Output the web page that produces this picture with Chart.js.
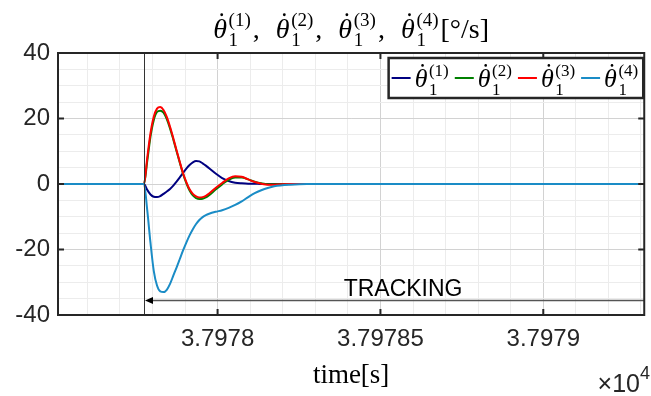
<!DOCTYPE html>
<html>
<head>
<meta charset="utf-8">
<script src="https://cdn.jsdelivr.net/npm/chart.js@4.4.0/dist/chart.umd.min.js"></script>
<style>
  html, body { margin: 0; padding: 0; background: #fff; }
</style>
</head>
<body>
<canvas id="myChart" width="651" height="396"></canvas>
<script>
// time axis (seconds), tracking starts at tStep
var tStep = 37977.774;
var xMin = 37977.51, xMax = 37979.31;
var yMin = -40, yMax = 40;
var xTicks = [37978, 37978.5, 37979];
var xTickLabels = ['3.7978', '3.79785', '3.7979'];
var yTicks = [-40, -20, 0, 20, 40];

// sample times, as offsets from tStep
var tOffset = [-0.264, 0,
  0.01, 0.02, 0.03, 0.04, 0.05, 0.06, 0.07, 0.08, 0.09, 0.10,
  0.11, 0.12, 0.13, 0.14, 0.15, 0.16, 0.17, 0.18, 0.19, 0.20,
  0.22, 0.24, 0.26, 0.28, 0.30, 0.32, 0.34, 0.36, 0.38, 0.40,
  0.45, 0.50, 0.60, 0.80, 1.00, 1.20, 1.536];

// joint rates [deg/s]
var rate1 = [0, 0,
  -1.8, -3.2, -3.9, -4.0, -3.7, -3.0, -2.3, -1.5, -0.5, 0.7,
  2.0, 3.4, 4.7, 5.8, 6.6, 7.0, 6.9, 6.3, 5.6, 4.8,
  3.2, 1.8, 0.9, 0.4, 0.2, 0.1, 0.1, 0, 0, 0,
  0, 0, 0, 0, 0, 0, 0];
var rate2 = [0, 0,
  7, 14.5, 19.5, 22, 22.4, 21.8, 19.8, 17, 13.6, 10,
  6.5, 3.1, 0.3, -2, -3.5, -4.3, -4.6, -4.5, -4.1, -3.4,
  -1.7, -0.1, 1.3, 2.0, 2.0, 1.4, 0.7, 0.2, -0.1, -0.1,
  0, 0, 0, 0, 0, 0, 0];
var rate3 = [0, 0,
  8, 15.5, 20.5, 23, 23.5, 22.6, 20.5, 17.5, 14, 10.3,
  6.7, 3.3, 0.6, -1.6, -3.0, -3.8, -4.1, -4.0, -3.6, -2.9,
  -1.2, 0.3, 1.7, 2.4, 2.2, 1.4, 0.6, 0.1, -0.2, -0.2,
  0, 0, 0, 0, 0, 0, 0];
var rate4 = [0, 0,
  -8, -18, -26.5, -31, -32.8, -33, -32.3, -30.5, -28, -25.5,
  -22.9, -20.3, -17.9, -15.7, -13.8, -12.2, -11.0, -10.1, -9.5, -9.1,
  -8.5, -8.0, -7.3, -6.4, -5.3, -4.0, -2.8, -1.9, -1.2, -0.7,
  -0.2, 0, 0, 0, 0, 0, 0];

var seriesColors = ['#000080', '#008000', '#ff0000', '#1a8cc6'];
var trackY = -35.6;
var trackLabel = 'TRACKING';
var trackLabelX = 37978.387, trackLabelY = -34.3;

var serif = '"Liberation Serif", "DejaVu Serif", serif';
var sans = '"Liberation Sans", Arial, sans-serif';
var ink = '#262626';

function pts(arr) {
  return tOffset.map(function (o, i) { return { x: tStep + o, y: arr[i] }; });
}

// width of a dotted theta with sub 1 and sup (k)
function thetaWidth(ctx, k, big, small) {
  ctx.font = 'italic ' + big + 'px ' + serif;
  var w = ctx.measureText('\u03b8').width + big * 0.06;
  ctx.font = small + 'px ' + serif;
  return w + Math.max(ctx.measureText('(' + k + ')').width, ctx.measureText('1').width);
}

function drawTheta(ctx, x, base, k, big, small) {
  ctx.textAlign = 'left';
  ctx.textBaseline = 'alphabetic';
  ctx.font = 'italic ' + big + 'px ' + serif;
  ctx.fillText('\u03b8', x, base);
  var w = ctx.measureText('\u03b8').width;
  ctx.beginPath();
  ctx.arc(x + w * 0.62, base - big * 0.83, big * 0.05, 0, Math.PI * 2);
  ctx.fill();
  var sx = x + w + big * 0.06;
  ctx.font = small + 'px ' + serif;
  ctx.fillText('(' + k + ')', sx, base - big * 0.42);
  ctx.fillText('1', sx, base + big * 0.3);
  return thetaWidth(ctx, k, big, small);
}

var decor = {
  id: 'decor',
  afterDatasetsDraw: function (chart) {
    var ctx = chart.ctx, a = chart.chartArea;
    var xs = chart.scales.x, ys = chart.scales.y;
    ctx.save();

    // start of tracking
    var px = xs.getPixelForValue(tStep);
    ctx.strokeStyle = '#333';
    ctx.lineWidth = 1;
    ctx.beginPath();
    ctx.moveTo(Math.round(px) + 0.5, a.top);
    ctx.lineTo(Math.round(px) + 0.5, a.bottom);
    ctx.stroke();

    // tracking arrow
    var py = ys.getPixelForValue(trackY);
    ctx.strokeStyle = '#555';
    ctx.lineWidth = 1.5;
    ctx.beginPath();
    ctx.moveTo(px + 6, py);
    ctx.lineTo(a.right, py);
    ctx.stroke();
    ctx.fillStyle = '#000';
    ctx.beginPath();
    ctx.moveTo(px + 1, py);
    ctx.lineTo(px + 9, py - 3.5);
    ctx.lineTo(px + 9, py + 3.5);
    ctx.closePath();
    ctx.fill();

    ctx.font = '23px ' + sans;
    ctx.textAlign = 'left';
    ctx.textBaseline = 'alphabetic';
    ctx.fillText(trackLabel, xs.getPixelForValue(trackLabelX), ys.getPixelForValue(trackLabelY));

    // axes box + inward ticks
    ctx.strokeStyle = ink;
    ctx.lineWidth = 2;
    ctx.strokeRect(a.left, a.top, a.right - a.left, a.bottom - a.top);
    ctx.beginPath();
    xTicks.forEach(function (v) {
      var x = xs.getPixelForValue(v);
      ctx.moveTo(x, a.bottom); ctx.lineTo(x, a.bottom - 6);
      ctx.moveTo(x, a.top); ctx.lineTo(x, a.top + 6);
    });
    yTicks.forEach(function (v) {
      var y = ys.getPixelForValue(v);
      ctx.moveTo(a.left, y); ctx.lineTo(a.left + 6, y);
      ctx.moveTo(a.right, y); ctx.lineTo(a.right - 6, y);
    });
    ctx.stroke();

    // legend
    var big = 26, small = 17, lineLen = 19, gap = 4, sep = 6;
    var widths = [1, 2, 3, 4].map(function (k) { return lineLen + gap + thetaWidth(ctx, k, big, small); });
    var boxW = 3 + widths.reduce(function (s, w) { return s + w; }, 0) + sep * 3 + 5;
    var boxR = a.right - 1, boxT = a.top + 5, boxH = 40;
    var boxL = boxR - boxW;
    ctx.fillStyle = '#fff';
    ctx.fillRect(boxL, boxT, boxW, boxH);
    var x = boxL + 3;
    for (var i = 0; i < 4; i++) {
      ctx.strokeStyle = seriesColors[i];
      ctx.lineWidth = 2;
      ctx.beginPath();
      ctx.moveTo(x, boxT + 20);
      ctx.lineTo(x + lineLen, boxT + 20);
      ctx.stroke();
      ctx.fillStyle = '#000';
      drawTheta(ctx, x + lineLen + gap, boxT + 29, i + 1, big, small);
      x += widths[i] + sep;
    }
    ctx.strokeStyle = ink;
    ctx.lineWidth = 2.5;
    ctx.strokeRect(boxL, boxT, boxW, boxH);
    ctx.restore();
  },
  afterDraw: function (chart) {
    var ctx = chart.ctx, a = chart.chartArea;
    var cx = (a.left + a.right) / 2;
    ctx.save();
    ctx.fillStyle = '#000';

    // title
    var big = 28, small = 19, commaAdv = 25;
    ctx.font = big + 'px ' + serif;
    var tail = '[\u00b0/s]';
    var total = ctx.measureText(tail).width + commaAdv * 3 + 2;
    for (var k = 1; k <= 4; k++) total += thetaWidth(ctx, k, big, small);
    var x = cx - total / 2, base = 38;
    for (k = 1; k <= 4; k++) {
      x += drawTheta(ctx, x, base, k, big, small);
      if (k < 4) {
        ctx.font = big + 'px ' + serif;
        ctx.fillText(',', x + 2, base);
        x += commaAdv;
      }
    }
    ctx.font = big + 'px ' + serif;
    ctx.fillText(tail, x + 2, base);

    // x axis title
    ctx.font = '27px ' + serif;
    ctx.textAlign = 'center';
    ctx.fillText('time[s]', cx, 383);

    // exponent
    ctx.fillStyle = ink;
    ctx.textAlign = 'right';
    ctx.font = '18px ' + sans;
    var ew = ctx.measureText('4').width;
    ctx.fillText('4', 650, 379);
    ctx.font = '25px ' + sans;
    ctx.fillText('\u00d710', 650 - ew, 392);
    ctx.restore();
  }
};

var ctx = document.getElementById('myChart').getContext('2d');
var chart = new Chart(ctx, {
  type: 'line',
  data: {
    datasets: [
      { data: pts(rate1), borderColor: seriesColors[0], order: 4 },
      { data: pts(rate2), borderColor: seriesColors[1], order: 3 },
      { data: pts(rate3), borderColor: seriesColors[2], order: 2 },
      { data: pts(rate4), borderColor: seriesColors[3], order: 1 }
    ]
  },
  options: {
    responsive: false,
    animation: false,
    layout: { padding: { top: 53, right: 3, left: 0, bottom: 0 } },
    elements: {
      line: { borderWidth: 2, cubicInterpolationMode: 'monotone', fill: false },
      point: { radius: 0 }
    },
    plugins: { legend: { display: false }, title: { display: false }, tooltip: { enabled: false } },
    scales: {
      x: {
        type: 'linear',
        min: xMin,
        max: xMax,
        afterBuildTicks: function (scale) {
          var t = [];
          for (var v = Math.ceil(xMin * 10); v <= Math.floor(xMax * 10); v++) t.push({ value: v / 10 });
          scale.ticks = t;
        },
        afterFit: function (scale) { scale.height = 81; },
        border: { display: false },
        grid: {
          drawTicks: false,
          color: function (c) {
            if (!c.tick) return '#ececec';
            var v = c.tick.value * 2;
            return Math.abs(v - Math.round(v)) < 1e-6 ? '#d2d2d2' : '#ececec';
          }
        },
        ticks: {
          autoSkip: false,
          maxRotation: 0,
          minRotation: 0,
          padding: 10,
          color: ink,
          font: { family: sans, size: 24 },
          callback: function (v) {
            for (var i = 0; i < xTicks.length; i++) {
              if (Math.abs(xTicks[i] - v) < 1e-6) return xTickLabels[i];
            }
            return '';
          }
        }
      },
      y: {
        min: yMin,
        max: yMax,
        afterFit: function (scale) { scale.width = 58; },
        border: { display: false },
        grid: {
          drawTicks: false,
          color: function (c) {
            if (!c.tick) return '#ececec';
            return c.tick.value % 20 === 0 ? '#d2d2d2' : '#ececec';
          }
        },
        ticks: {
          stepSize: 5,
          autoSkip: false,
          padding: 8,
          color: ink,
          font: { family: sans, size: 24 },
          callback: function (v) { return v % 20 === 0 ? String(v) : ''; }
        }
      }
    }
  },
  plugins: [decor]
});
</script>
</body>
</html>
